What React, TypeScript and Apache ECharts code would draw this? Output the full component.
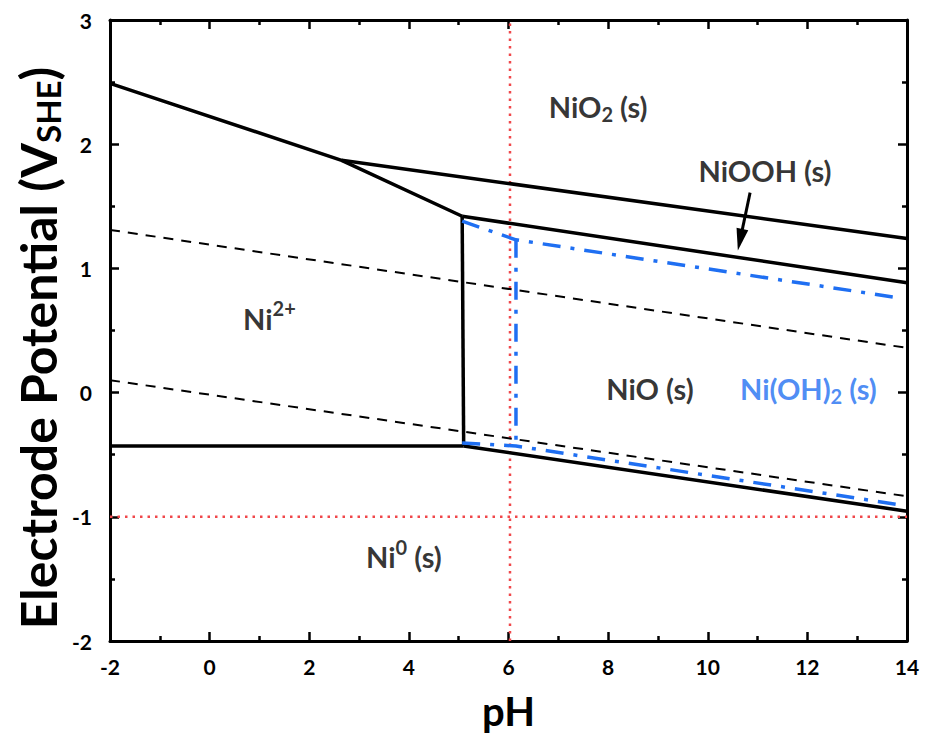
import React, { useEffect, useRef } from "react";
import * as echarts from "echarts";

// Phase boundaries [pH, E(V_SHE)]
const ni2NiO2 = [[-2, 2.49], [2.65, 1.87], [5.07, 1.42]];
const nioohNiO2 = [[2.65, 1.87], [14, 1.24]];
const nioNiooh = [[5.07, 1.42], [14, 0.885]];
const ni2NiO = [[5.07, 1.42], [5.1, -0.43]];
const ni2Ni = [[-2, -0.43], [5.1, -0.43]];
const nioNi = [[5.1, -0.43], [14, -0.955]];
// water stability
const waterO2 = [[-2, 1.31], [14, 0.36]];
const waterH2 = [[-2, 0.1], [14, -0.835]];
// Ni(OH)2 boundaries
const ohTop = [[5.07, 1.38], [6.15, 1.23], [13.8, 0.765]];
const ohVert = [[6.15, 1.23], [6.15, -0.42]];
const ohBottom = [[5.07, -0.405], [6.15, -0.43], [13.8, -0.9]];
// reference lines
const refPH = 6.03;
const refE = -1;
// region labels [pH, E, text]
const regionLabels: [number, number, string][] = [
  [7.8, 2.3, "{b|NiO}{sub|2}{b| (s)}"],
  [11.15, 1.79, "{b|NiOOH (s)}"],
  [1.2, 0.6, "{b|Ni}{sup|2+}"],
  [8.84, 0.03, "{b|NiO (s)}"],
  [12.02, 0.03, "{bb|Ni(OH)}{bsub|2}{bb| (s)}"],
  [3.9, -1.32, "{b|Ni}{sup|0}{b| (s)}"],
];
const arrowFrom = [10.85, 1.61];
const arrowTo = [10.65, 1.23];

const xTicks = { min: -2, max: 14, interval: 2 };
const yTicks = { min: -2, max: 3, interval: 1 };
const xTitle = "pH";
const yTitleParts = ["Electrode Potential (V", "SHE", ")"];

const FONT = "Lato";
const BLUE = "#1f6ff2";
const RED = "#f0474a";

function measure(text: string, size: number) {
  const c = document.createElement("canvas").getContext("2d")!;
  c.font = `bold ${size}px ${FONT}`;
  return c.measureText(text).width;
}

export default function App() {
  const ref = useRef<HTMLDivElement>(null);
  useEffect(() => {
    const chart = echarts.init(ref.current!, null, { renderer: "svg" });
    const black = (data: number[][]) => ({
      type: "line",
      data,
      showSymbol: false,
      symbol: "none",
      lineStyle: { color: "#000", width: 3.5 },
      z: 5,
    });
    const dashed = (data: number[][]) => ({
      type: "line",
      data,
      symbol: "none",
      lineStyle: { color: "#000", width: 2, type: [10, 8] },
      z: 4,
    });
    const blue = (data: number[][]) => ({
      type: "line",
      data,
      symbol: "none",
      lineStyle: { color: BLUE, width: 3.5, type: [18, 10, 4, 10] },
      z: 6,
    });
    const red = (data: number[][]) => ({
      type: "line",
      data,
      symbol: "none",
      lineStyle: { color: RED, width: 2.5, type: [2.5, 5] },
      z: 3,
    });
    const axisCommon = {
      axisLine: { show: true, onZero: false, lineStyle: { color: "#000", width: 3 } },
      axisTick: { show: true, inside: true, length: 9, lineStyle: { color: "#000", width: 2.5 } },
      minorTick: { show: true, splitNumber: 2, length: 5, lineStyle: { color: "#000", width: 2.5 } },
      splitLine: { show: false },
    };
    const labelStyle = { fontFamily: FONT, fontWeight: "bold", color: "#000" };

    const big = 50;
    const small = 33;
    const w1 = measure(yTitleParts[0], big);
    const w2 = measure(yTitleParts[1], small);
    const w3 = measure(yTitleParts[2], big);
    const total = w1 + w2 + w3;
    const x0 = -total / 2;

    chart.setOption({
      animation: false,
      backgroundColor: "#fff",
      grid: { left: 110, right: 18, top: 20, bottom: 94 },
      graphic: [
        {
          type: "group",
          x: 38,
          y: 348,
          rotation: Math.PI / 2,
          children: [
            {
              type: "text",
              x: x0,
              y: 0,
              style: { ...labelStyle, text: yTitleParts[0], fontSize: big, fill: "#000", align: "left", verticalAlign: "middle" },
            },
            {
              type: "text",
              x: x0 + w1,
              y: 10,
              style: { ...labelStyle, text: yTitleParts[1], fontSize: small, fill: "#000", align: "left", verticalAlign: "middle" },
            },
            {
              type: "text",
              x: x0 + w1 + w2,
              y: 0,
              style: { ...labelStyle, text: yTitleParts[2], fontSize: big, fill: "#000", align: "left", verticalAlign: "middle" },
            },
          ],
        },
      ],
      xAxis: [
        {
          type: "value",
          ...xTicks,
          position: "bottom",
          ...axisCommon,
          axisLabel: { ...labelStyle, fontSize: 21, margin: 15 },
          name: xTitle,
          nameLocation: "middle",
          nameGap: 50,
          nameTextStyle: { ...labelStyle, fontSize: 40 },
        },
        {
          type: "value",
          ...xTicks,
          position: "top",
          ...axisCommon,
          axisLabel: { show: false },
        },
      ],
      yAxis: [
        {
          type: "value",
          ...yTicks,
          position: "left",
          ...axisCommon,
          axisLabel: { ...labelStyle, fontSize: 21, margin: 18 },
        },
        {
          type: "value",
          ...yTicks,
          position: "right",
          ...axisCommon,
          axisLabel: { show: false },
        },
      ],
      series: [
        red([[refPH, yTicks.min], [refPH, yTicks.max]]),
        red([[xTicks.min, refE], [xTicks.max, refE]]),
        dashed(waterO2),
        dashed(waterH2),
        black(ni2NiO2),
        black(nioohNiO2),
        black(nioNiooh),
        black(ni2NiO),
        black(ni2Ni),
        black(nioNi),
        blue(ohTop),
        blue(ohVert),
        blue(ohBottom),
        {
          type: "scatter",
          symbolSize: 0,
          data: regionLabels.map((d) => [d[0], d[1]]),
          z: 10,
          label: {
            show: true,
            position: "inside",
            formatter: (p: any) => regionLabels[p.dataIndex][2],
            rich: {
              b: { ...labelStyle, fontSize: 29 },
              sub: { ...labelStyle, fontSize: 20, padding: [14, 0, 0, 0] },
              sup: { ...labelStyle, fontSize: 20, padding: [0, 0, 20, 0] },
              bb: { ...labelStyle, color: BLUE, fontSize: 29 },
              bsub: { ...labelStyle, color: BLUE, fontSize: 20, padding: [14, 0, 0, 0] },
            },
          },
          markLine: {
            silent: true,
            symbol: ["none", "triangle"],
            symbolSize: [12, 22],
            label: { show: false },
            lineStyle: { color: "#000", width: 3, type: "solid" },
            data: [[{ coord: arrowFrom }, { coord: arrowTo }]],
          },
        },
      ],
    });
    return () => chart.dispose();
  }, []);
  return <div ref={ref} style={{ width: 925, height: 736, position: "absolute", left: 0, top: 0 }} />;
}
